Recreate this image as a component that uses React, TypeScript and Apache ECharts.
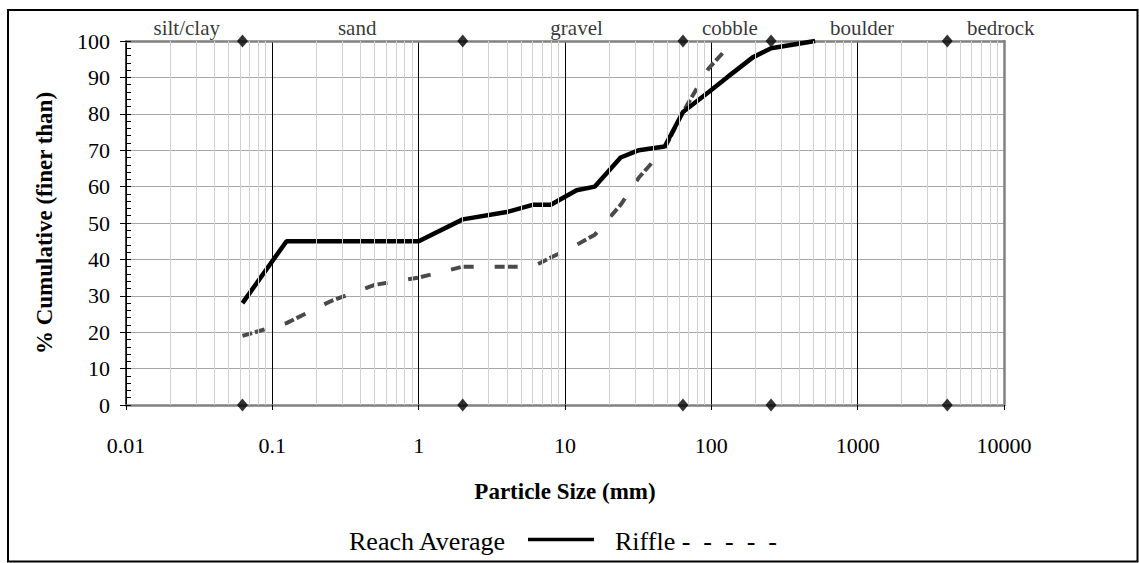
import React, { useEffect, useRef } from "react";
import * as echarts from "echarts";

// ---- data ----
const reachSizes = [0.0625, 0.125, 1, 2, 4, 6, 8, 12, 16, 24, 32, 48, 64, 96, 128, 192, 256, 512];
const reachPercent = [28, 45, 45, 51, 53, 55, 55, 59, 60, 68, 70, 71, 80.5, 86, 90, 95.5, 98, 100];

const riffleSizes = [0.0625, 0.125, 0.25, 0.5, 1, 2, 4, 6, 8, 12, 16, 24, 32, 48, 64, 96, 128, 142];
const rifflePercent = [19, 22.5, 28.5, 33, 35, 38, 38, 38, 40.5, 44, 46.8, 55, 62.5, 70.5, 80.5, 92.5, 98, 99.3];

const classBoundaries = [0.0625, 2, 64, 256, 4096];
const boundaryLevels = [0, 100];
const classNames = ["silt/clay", "sand", "gravel", "cobble", "boulder", "bedrock"];
const classLabelSizes = [0.026, 0.38, 12, 134, 1070, 9500];

const xTickLabels = ["0.01", "0.1", "1", "10", "100", "1000", "10000"];
const decadeStarts = [0.01, 0.1, 1, 10, 100, 1000];
const minorMultipliers = [2, 3, 4, 5, 6, 7, 8, 9];

const FONT = "'Liberation Serif', 'Times New Roman', Times, serif";

export default function App() {
  const ref = useRef<HTMLDivElement>(null);

  useEffect(() => {
    document.body.style.margin = "0";
    if (!ref.current) return;
    const chart = echarts.init(ref.current, undefined, { renderer: "svg" });

    const reachData = reachSizes.map((s, i) => [s, reachPercent[i]]);
    const riffleData = riffleSizes.map((s, i) => [s, rifflePercent[i]]);
    const diamonds: number[][] = [];
    boundaryLevels.forEach((lv) => classBoundaries.forEach((b) => diamonds.push([b, lv])));
    const minorLines: any[] = [];
    decadeStarts.forEach((d) =>
      minorMultipliers.forEach((m) => minorLines.push({ xAxis: +(d * m).toPrecision(3) }))
    );
    const classLabelData = classNames.map((n, i) => ({ name: n, value: [classLabelSizes[i], 100] }));

    const option: any = {
      animation: false,
      backgroundColor: "#ffffff",
      textStyle: { fontFamily: FONT },
      grid: { left: 126, top: 41, width: 878, height: 364, containLabel: false },
      xAxis: [
        {
          type: "log",
          logBase: 10,
          min: 0.01,
          max: 10000,
          position: "bottom",
          axisLine: { show: true, onZero: false, lineStyle: { color: "#808080", width: 2.5 } },
          axisTick: { show: true, length: 5, lineStyle: { color: "#000", width: 1 } },
          axisLabel: {
            margin: 29,
            fontSize: 22,
            color: "#000",
            fontFamily: FONT,
            formatter: (v: number) => xTickLabels[Math.round(Math.log10(v)) + 2] ?? String(v),
          },
          splitLine: { show: true, lineStyle: { color: "#000", width: 1 } },
          name: "Particle Size (mm)",
          nameLocation: "middle",
          nameGap: 75,
          nameTextStyle: { fontSize: 23, fontWeight: "bold", color: "#000", fontFamily: FONT },
        },
        {
          type: "log",
          logBase: 10,
          min: 0.01,
          max: 10000,
          position: "top",
          axisLine: { show: true, onZero: false, lineStyle: { color: "#808080", width: 2.5 } },
          axisTick: { show: false },
          axisLabel: { show: false },
          splitLine: { show: false },
        },
      ],
      yAxis: [
        {
          type: "value",
          min: 0,
          max: 100,
          interval: 10,
          position: "left",
          axisLine: { show: true, lineStyle: { color: "#000", width: 1.5 } },
          axisTick: { show: true, inside: false, length: 6, lineStyle: { color: "#000" } },
          axisLabel: { fontSize: 22, margin: 16, color: "#000", fontFamily: FONT },
          splitLine: { show: true, lineStyle: { color: "#a6a6a6", width: 1 } },
          name: "% Cumulative (finer than)",
          nameLocation: "middle",
          nameRotate: 90,
          nameGap: 70,
          nameTextStyle: { fontSize: 23, fontWeight: "bold", color: "#000", fontFamily: FONT },
        },
        {
          type: "value",
          min: 0,
          max: 100,
          interval: 2,
          position: "left",
          axisLine: { show: false },
          axisTick: { show: true, inside: true, length: 5, lineStyle: { color: "#000" } },
          axisLabel: { show: false },
          splitLine: { show: false },
        },
        {
          type: "value",
          min: 0,
          max: 100,
          position: "right",
          axisLine: { show: true, lineStyle: { color: "#808080", width: 2.5 } },
          axisTick: { show: false },
          axisLabel: { show: false },
          splitLine: { show: false },
        },
      ],
      series: [
        {
          name: "minor-grid",
          type: "line",
          data: [],
          z: 1,
          silent: true,
          markLine: {
            silent: true,
            symbol: ["none", "none"],
            label: { show: false },
            lineStyle: { color: "#d0d0d0", width: 1, type: "solid" },
            emphasis: { disabled: true },
            data: minorLines,
          },
        },
        {
          name: "Riffle",
          type: "line",
          data: riffleData,
          symbol: "none",
          clip: false,
          z: 3,
          lineStyle: { color: "#4a4a4a", width: 4, type: [10, 3, 10, 21], cap: "butt" },
        },
        {
          name: "Reach Average",
          type: "line",
          data: reachData,
          symbol: "none",
          clip: false,
          z: 4,
          lineStyle: { color: "#000", width: 4.5 },
        },
        {
          name: "class boundaries",
          type: "scatter",
          data: diamonds,
          symbol: "diamond",
          symbolSize: [11, 13],
          clip: false,
          z: 5,
          itemStyle: { color: "#000" },
        },
        {
          name: "class names",
          type: "scatter",
          data: classLabelData,
          symbolSize: 1,
          clip: false,
          z: 5,
          itemStyle: { color: "transparent" },
          label: {
            show: true,
            position: "top",
            distance: 2,
            formatter: (p: any) => p.name,
            fontSize: 21,
            color: "#000",
            fontFamily: FONT,
          },
        },
      ],
      graphic: [
        {
          type: "rect",
          shape: { x: 8, y: 10, width: 1129.5, height: 551.5 },
          style: { fill: "none", stroke: "#000", lineWidth: 2 },
          silent: true,
        },
        {
          type: "text",
          x: 349,
          y: 541,
          style: {
            text: "Reach Average",
            fontSize: 26,
            fontFamily: FONT,
            fill: "#000",
            align: "left",
            verticalAlign: "middle",
          },
        },
        {
          type: "line",
          shape: { x1: 528, y1: 539.5, x2: 594, y2: 539.5 },
          style: { stroke: "#000", lineWidth: 3.5 },
        },
        {
          type: "text",
          x: 615,
          y: 541,
          style: {
            text: "Riffle -\u00a0\u00a0-\u00a0\u00a0-\u00a0\u00a0-\u00a0\u00a0-",
            fontSize: 26,
            fontFamily: FONT,
            fill: "#000",
            align: "left",
            verticalAlign: "middle",
          },
        },
      ],
    };

    chart.setOption(option);
    return () => chart.dispose();
  }, []);

  return <div ref={ref} style={{ width: 1139, height: 563 }} />;
}
